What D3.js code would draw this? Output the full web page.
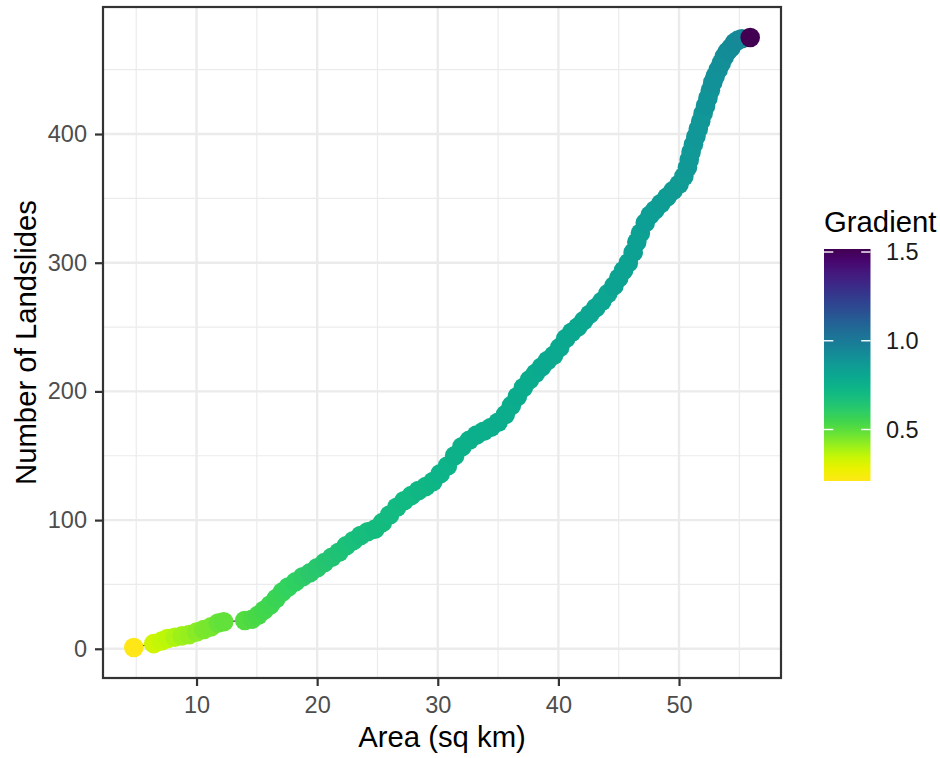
<!DOCTYPE html>
<html>
<head>
<meta charset="utf-8">
<script src="https://cdn.jsdelivr.net/npm/d3@7"></script>
<style>
  body { margin: 0; background: #fff; }
  text { font-family: "Liberation Sans", Arial, sans-serif; }
</style>
</head>
<body>
<script>
/* jshint esversion: 6 */
'use strict';

// cumulative landslide curve
const areaSqKm = [
  4.8, 6.45, 7.1, 7.6, 8.2, 8.8, 9.4, 10.0, 10.6, 11.2, 11.8, 12.25,
  14.0, 14.6, 15.1, 15.6, 16.1, 16.6, 17.1, 17.6, 18.2, 18.8, 19.4, 20.0,
  20.6, 21.2, 21.8, 22.4, 23.0, 23.6, 24.2, 24.8, 25.4, 26.0, 26.6, 27.2,
  27.8, 28.4, 29.0, 29.6, 30.2, 30.8, 31.4, 32.0, 32.6, 33.2, 33.8, 34.4,
  35.0, 35.6, 36.1, 36.6, 37.1, 37.6, 38.1, 38.6, 39.1, 39.6, 40.1, 40.6,
  41.1, 41.6, 42.1, 42.6, 43.1, 43.6, 44.1, 44.6, 45.0, 45.4, 45.8, 46.2,
  46.5, 46.8, 47.2, 47.6, 48.0, 48.5, 49.0, 49.5, 50.0, 50.4, 50.7, 50.85,
  51.0, 51.2, 51.4, 51.6, 51.8, 52.0, 52.2, 52.4, 52.6, 52.8, 53.0, 53.25,
  53.5, 53.75, 54.0, 54.3, 54.6, 54.9, 55.2, 55.9
];

const landslideCount = [
  1, 4, 6, 8, 9, 10, 11, 13, 15, 17, 20, 21,
  22, 23, 26, 30, 34, 39, 44, 48, 52, 56, 59, 63,
  67, 71, 75, 80, 84, 88, 91, 93, 98, 104, 110, 115,
  119, 123, 126, 130, 136, 142, 150, 157, 162, 166, 169, 172,
  176, 182, 189, 196, 203, 209, 214, 219, 224, 228, 234, 241,
  246, 250, 255, 260, 265, 270, 276, 282, 288, 294, 300, 308,
  316, 323, 331, 337, 341, 346, 351, 356, 361, 367, 374, 380,
  386, 392, 398, 404, 410, 416, 422, 428, 434, 440, 445, 450,
  455, 460, 464, 467, 471, 473, 474, 475
];

const gradientValues = [
  0.21, 0.33, 0.35, 0.36, 0.38, 0.40, 0.41, 0.43, 0.45, 0.46, 0.48, 0.49,
  0.51, 0.52, 0.53, 0.54, 0.55, 0.56, 0.57, 0.58, 0.59, 0.60, 0.61, 0.62,
  0.63, 0.64, 0.65, 0.66, 0.67, 0.68, 0.68, 0.69, 0.69, 0.70, 0.70, 0.71,
  0.71, 0.72, 0.72, 0.73, 0.74, 0.74, 0.75, 0.75, 0.75, 0.76, 0.76, 0.76,
  0.77, 0.77, 0.77, 0.78, 0.78, 0.78, 0.78, 0.79, 0.79, 0.79, 0.79, 0.80,
  0.80, 0.80, 0.80, 0.81, 0.81, 0.81, 0.81, 0.82, 0.82, 0.82, 0.82, 0.83,
  0.83, 0.83, 0.84, 0.84, 0.84, 0.85, 0.85, 0.86, 0.86, 0.86, 0.87, 0.87,
  0.87, 0.87, 0.88, 0.88, 0.88, 0.88, 0.89, 0.89, 0.89, 0.90, 0.90, 0.90,
  0.91, 0.91, 0.92, 0.92, 0.93, 0.93, 0.94, 1.517
];

const xTickValues = [10, 20, 30, 40, 50];
const xMinorValues = [5, 15, 25, 35, 45, 55];
const yTickValues = [0, 100, 200, 300, 400];
const yMinorValues = [50, 150, 250, 350, 450];
const legendTickValues = [0.5, 1.0, 1.5];

(function() {

  let svgContainer = ""; // keep SVG reference around

  // panel box in pixels
  const panel = { left: 103, right: 781, top: 7, bottom: 678 };

  window.onload = function() {
    svgContainer = d3.select('body')
      .append('svg')
      .attr('width', 940)
      .attr('height', 758);

    svgContainer.append('rect')
      .attr('width', 940)
      .attr('height', 758)
      .attr('fill', '#fff');

    let data = areaSqKm.map((a, i) => ({
      area: a,
      count: landslideCount[i],
      gradient: gradientValues[i]
    }));

    let scales = makeScales(data);
    drawGrid(scales);
    plotData(data, scales);
    drawAxes(scales);
    makeLabels();
    drawLegend(scales);
  };

  // ggplot style 5% expansion on both axes
  function expand(extent) {
    let pad = (extent[1] - extent[0]) * 0.05;
    return [extent[0] - pad, extent[1] + pad];
  }

  function makeScales(data) {
    let x = d3.scaleLinear()
      .domain(expand(d3.extent(data, d => d.area)))
      .range([panel.left, panel.right]);

    let y = d3.scaleLinear()
      .domain(expand(d3.extent(data, d => d.count)))
      .range([panel.bottom, panel.top]);

    let gExtent = d3.extent(data, d => d.gradient);
    // viridis reversed: yellow low, purple high
    let viridis = d3.scaleSequential(d3.interpolateViridis)
      .domain([gExtent[1], gExtent[0]]);

    // the picture is a bit punchier than plain viridis
    let colour = function(v) {
      let c = d3.hsl(viridis(v));
      c.s = Math.min(1, c.s * 1.3);
      c.l = c.l * 0.96;
      return c.formatHex();
    };

    return { x: x, y: y, colour: colour, gExtent: gExtent };
  }

  function drawGrid(s) {
    let grid = svgContainer.append('g');

    // minor lines
    grid.selectAll('.xminor')
      .data(xMinorValues)
      .enter()
      .append('line')
        .attr('x1', d => s.x(d)).attr('x2', d => s.x(d))
        .attr('y1', panel.top).attr('y2', panel.bottom)
        .attr('stroke', '#ebebeb').attr('stroke-width', 1.2);

    grid.selectAll('.yminor')
      .data(yMinorValues)
      .enter()
      .append('line')
        .attr('x1', panel.left).attr('x2', panel.right)
        .attr('y1', d => s.y(d)).attr('y2', d => s.y(d))
        .attr('stroke', '#ebebeb').attr('stroke-width', 1.2);

    // major lines
    grid.selectAll('.xmajor')
      .data(xTickValues)
      .enter()
      .append('line')
        .attr('x1', d => s.x(d)).attr('x2', d => s.x(d))
        .attr('y1', panel.top).attr('y2', panel.bottom)
        .attr('stroke', '#ebebeb').attr('stroke-width', 2.4);

    grid.selectAll('.ymajor')
      .data(yTickValues)
      .enter()
      .append('line')
        .attr('x1', panel.left).attr('x2', panel.right)
        .attr('y1', d => s.y(d)).attr('y2', d => s.y(d))
        .attr('stroke', '#ebebeb').attr('stroke-width', 2.4);
  }

  function plotData(data, s) {
    // thin black line under the points
    let line = d3.line()
      .x(d => s.x(d.area))
      .y(d => s.y(d.count));

    svgContainer.append('path')
      .datum(data)
      .attr('d', line)
      .attr('fill', 'none')
      .attr('stroke', '#000')
      .attr('stroke-width', 1);

    svgContainer.selectAll('.pt')
      .data(data)
      .enter()
      .append('circle')
        .attr('cx', d => s.x(d.area))
        .attr('cy', d => s.y(d.count))
        .attr('r', 9.8)
        .attr('fill', d => s.colour(d.gradient));

    // panel border
    svgContainer.append('rect')
      .attr('x', panel.left)
      .attr('y', panel.top)
      .attr('width', panel.right - panel.left)
      .attr('height', panel.bottom - panel.top)
      .attr('fill', 'none')
      .attr('stroke', '#333')
      .attr('stroke-width', 2.2);
  }

  function drawAxes(s) {
    let xAxis = d3.axisBottom(s.x)
      .tickValues(xTickValues)
      .tickSize(8)
      .tickPadding(10);

    let gx = svgContainer.append('g')
      .attr('transform', 'translate(0,' + panel.bottom + ')')
      .call(xAxis);

    let yAxis = d3.axisLeft(s.y)
      .tickValues(yTickValues)
      .tickSize(8)
      .tickPadding(8);

    let gy = svgContainer.append('g')
      .attr('transform', 'translate(' + panel.left + ',0)')
      .call(yAxis);

    [gx, gy].forEach(g => {
      g.select('.domain').remove();
      g.selectAll('line').attr('stroke', '#333').attr('stroke-width', 2.2);
      g.selectAll('text')
        .style('font-family', '"Liberation Sans", Arial, sans-serif')
        .style('font-size', '23.5px')
        .attr('fill', '#4d4d4d');
    });
  }

  // axis titles
  function makeLabels() {
    svgContainer.append('text')
      .attr('x', (panel.left + panel.right) / 2)
      .attr('y', 747)
      .attr('text-anchor', 'middle')
      .style('font-size', '29.3px')
      .style('fill', '#000')
      .text('Area (sq km)');

    svgContainer.append('text')
      .attr('transform', 'translate(36,' + ((panel.top + panel.bottom) / 2) + ')rotate(-90)')
      .attr('text-anchor', 'middle')
      .style('font-size', '29.3px')
      .style('fill', '#000')
      .text('Number of Landslides');
  }

  // colour bar legend
  function drawLegend(s) {
    const bar = { x: 824, y: 249, w: 46.5, h: 232 };

    let legendScale = d3.scaleLinear()
      .domain(s.gExtent)
      .range([bar.y + bar.h, bar.y]);

    let defs = svgContainer.append('defs');
    let grad = defs.append('linearGradient')
      .attr('id', 'gradBar')
      .attr('x1', 0).attr('y1', 1)
      .attr('x2', 0).attr('y2', 0);

    d3.range(0, 1.0001, 0.05).forEach(t => {
      let v = s.gExtent[0] + t * (s.gExtent[1] - s.gExtent[0]);
      grad.append('stop')
        .attr('offset', t)
        .attr('stop-color', s.colour(v));
    });

    svgContainer.append('text')
      .attr('x', bar.x)
      .attr('y', 231.5)
      .style('font-size', '29.3px')
      .style('fill', '#000')
      .text('Gradient');

    svgContainer.append('rect')
      .attr('x', bar.x)
      .attr('y', bar.y)
      .attr('width', bar.w)
      .attr('height', bar.h)
      .attr('fill', 'url(#gradBar)');

    // white ticks on both edges
    let tickLen = bar.w / 5;
    legendTickValues.forEach(v => {
      let ty = legendScale(v);
      [[bar.x, bar.x + tickLen], [bar.x + bar.w - tickLen, bar.x + bar.w]].forEach(p => {
        svgContainer.append('line')
          .attr('x1', p[0]).attr('x2', p[1])
          .attr('y1', ty).attr('y2', ty)
          .attr('stroke', '#fff')
          .attr('stroke-width', 1.4);
      });

      svgContainer.append('text')
        .attr('x', 886)
        .attr('y', ty)
        .attr('dy', '0.36em')
        .style('font-size', '23.5px')
        .style('fill', '#1a1a1a')
        .text(d3.format('.1f')(v));
    });
  }

})();
</script>
</body>
</html>
